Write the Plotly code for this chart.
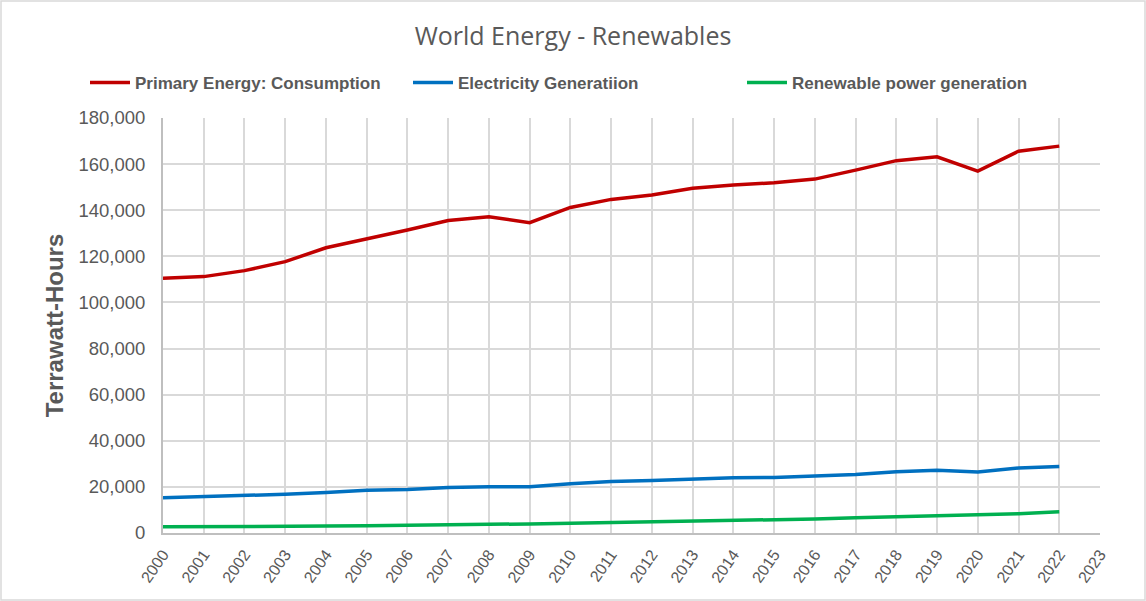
import plotly.graph_objects as go

years = list(range(2000, 2023))

primary_energy = [110500, 111200, 113800, 117700, 123700, 127400, 131400, 135500, 137200, 134600,
                  141200, 144700, 146600, 149500, 150900, 151900, 153500, 157400, 161500, 163200,
                  157000, 165600, 167800]
electricity = [15300, 15700, 16200, 16800, 17600, 18500, 18900, 19700, 20100, 20100,
               21400, 22300, 22800, 23300, 24000, 24100, 24900, 25400, 26600, 27200,
               26500, 28200, 28800]
renewables = [2700, 2700, 2700, 2700, 3000, 3100, 3400, 3500, 3800, 3900,
              4200, 4500, 4800, 5100, 5300, 5700, 6100, 6600, 7000, 7500,
              8000, 8400, 9200]

tick_years = list(range(2000, 2024))

W, H = 1146, 601
L, R, T, B = 163, 46, 118, 68
grey_text = '#595959'

# one legend per series so the entries can sit where Excel put them
fig = go.Figure()
fig.add_trace(go.Scatter(x=years, y=primary_energy, mode='lines', name='Primary Energy: Consumption',
                         line=dict(color='#C00000', width=3.5), legend='legend'))
fig.add_trace(go.Scatter(x=years, y=electricity, mode='lines', name='Electricity Generatiion',
                         line=dict(color='#0070C0', width=3.5), legend='legend2'))
fig.add_trace(go.Scatter(x=years, y=renewables, mode='lines', name='Renewable power generation',
                         line=dict(color='#00B050', width=3.5), legend='legend3'))

leg = dict(orientation='h', xanchor='left', xref='container', y=1 - 83 / H, yref='container',
           yanchor='middle', font=dict(family='Liberation Sans', size=17, color=grey_text, weight='bold'),
           itemwidth=40, bgcolor='rgba(0,0,0,0)')

pw = W - L - R
ph = H - T - B
fig.update_layout(
    width=W, height=H,
    margin=dict(l=L, r=R, t=T, b=B, autoexpand=False),
    plot_bgcolor='white', paper_bgcolor='white',
    title=dict(text='World Energy - Renewables', x=0.5, xanchor='center', y=1 - 36 / H, yanchor='middle',
               font=dict(family='Open Sans', size=25, color=grey_text)),
    legend=dict(leg, x=85 / W),
    legend2=dict(leg, x=408 / W),
    legend3=dict(leg, x=742 / W),
    showlegend=True,
    shapes=[dict(type='rect', xref='paper', yref='paper',
                 x0=-(L - 1) / pw, x1=1 + (R - 1) / pw, y0=-(B - 1) / ph, y1=1 + (T - 1) / ph,
                 line=dict(color='#d9d9d9', width=1.5), layer='below')],
)
fig.update_xaxes(range=[2000, 2023], tickmode='array', tickvals=tick_years, ticktext=[str(y) for y in tick_years],
                 tickangle=-55, automargin=False, showgrid=True, gridcolor='#d9d9d9', gridwidth=2,
                 showline=True, linecolor='#bfbfbf', linewidth=2, zeroline=False, ticks='',
                 ticklabelstandoff=4,
                 tickfont=dict(family='Liberation Sans', size=16, color=grey_text))
fig.update_yaxes(range=[0, 180000], dtick=20000, tickformat=',', automargin=False,
                 showgrid=True, gridcolor='#d9d9d9', gridwidth=2,
                 showline=True, linecolor='#bfbfbf', linewidth=2, zeroline=False, ticks='',
                 ticklabelstandoff=12,
                 tickfont=dict(family='Liberation Sans', size=18.5, color=grey_text),
                 title=dict(text='Terrawatt-Hours', standoff=8,
                            font=dict(family='Liberation Sans', size=24, color=grey_text, weight='bold')))

fig.write_html("out.html", config={'displayModeBar': False},
               post_script="document.body.style.margin = '0';")
